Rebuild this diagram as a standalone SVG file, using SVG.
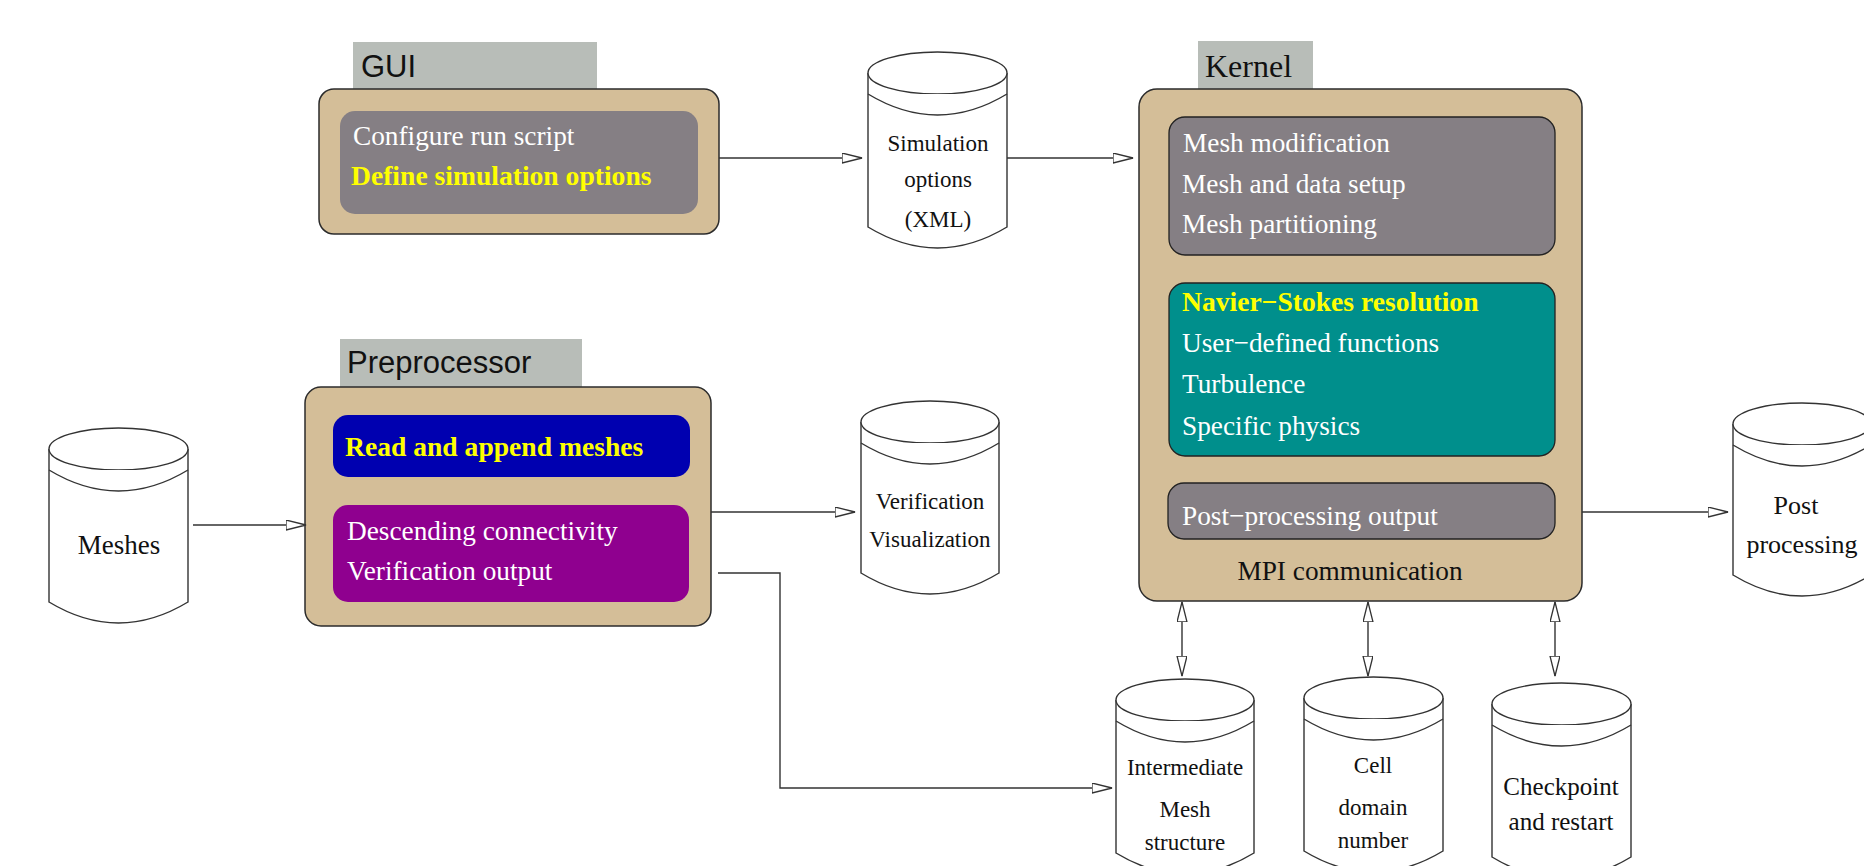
<svg xmlns="http://www.w3.org/2000/svg" width="1864" height="866" viewBox="0 0 1864 866">
<style>
.bg{fill:#ffffff}
.outer{fill:#d4be98;stroke:#2b2b2b;stroke-width:1.5}
.lbl{fill:#b8bdb8}
.gray{fill:#857f84}
.grayo{fill:#857f84;stroke:#222;stroke-width:1.3}
.teal{fill:#008f8c;stroke:#222;stroke-width:1.3}
.blue{fill:#0000b0}
.purple{fill:#8f008f}
.cyl{fill:#ffffff;stroke:#333;stroke-width:1.4}
.ser{font-family:"Liberation Serif","Times New Roman",serif}
.sans{font-family:"Liberation Sans",Arial,sans-serif;font-size:31px;fill:#111}
.w{fill:#ffffff;font-size:27.3px}
.y{fill:#ffff00;font-size:27.6px;font-weight:bold}
.k{fill:#111;font-size:27.3px}
.c{fill:#111;font-size:23px;text-anchor:middle}
.conn{fill:none;stroke:#333;stroke-width:1.4}
</style>
<defs>
<marker id="ah" markerWidth="22" markerHeight="12" refX="20" refY="5" orient="auto-start-reverse" markerUnits="userSpaceOnUse">
<path d="M0,0 L20,5 L0,10 Z" fill="#ffffff" stroke="#333" stroke-width="1.3"/>
</marker>
</defs>
<rect class="bg" x="0" y="0" width="1864" height="866"/>

<g id="gui">
<rect class="lbl" x="353" y="42" width="244" height="47"/>
<text class="sans" x="361" y="77">GUI</text>
<rect class="outer" x="319" y="89" width="400" height="145" rx="15"/>
<rect class="gray" x="340" y="111" width="358" height="103" rx="15"/>
<text class="ser w" x="353" y="145">Configure run script</text>
<text class="ser y" x="351" y="185">Define simulation options</text>
</g>

<g id="sim-options">
<path class="cyl" d="M868,73 V227 Q937.5,269 1007,227 V73"/>
<ellipse class="cyl" cx="937.5" cy="73" rx="69.5" ry="21"/>
<path class="cyl" d="M868,94 Q937.5,136 1007,94" fill="none"/>
<text class="ser c" x="938" y="151">Simulation</text>
<text class="ser c" x="938" y="187">options</text>
<text class="ser c" x="938" y="227">(XML)</text>
</g>

<g id="kernel">
<rect class="lbl" x="1198" y="41" width="115" height="48"/>
<text class="ser" x="1205" y="77" style="font-size:32px;fill:#111">Kernel</text>
<rect class="outer" x="1139" y="89" width="443" height="512" rx="18"/>
<rect class="grayo" x="1169" y="117" width="386" height="138" rx="16"/>
<text class="ser w" x="1183" y="152">Mesh modification</text>
<text class="ser w" x="1182" y="193">Mesh and data setup</text>
<text class="ser w" x="1182" y="233">Mesh partitioning</text>
<rect class="teal" x="1169" y="283" width="386" height="173" rx="16"/>
<text class="ser y" x="1182" y="311">Navier−Stokes resolution</text>
<text class="ser w" x="1182" y="352">User−defined functions</text>
<text class="ser w" x="1182" y="393">Turbulence</text>
<text class="ser w" x="1182" y="435">Specific physics</text>
<rect class="grayo" x="1168" y="483" width="387" height="56" rx="16"/>
<text class="ser w" x="1182" y="525">Post−processing output</text>
<text class="ser k" x="1350" y="580" text-anchor="middle">MPI communication</text>
</g>

<g id="preprocessor">
<rect class="lbl" x="340" y="339" width="242" height="48"/>
<text class="sans" x="347" y="373">Preprocessor</text>
<rect class="outer" x="305" y="387" width="406" height="239" rx="16"/>
<rect class="blue" x="333" y="415" width="357" height="62" rx="15"/>
<text class="ser y" x="345" y="456">Read and append meshes</text>
<rect class="purple" x="333" y="505" width="356" height="97" rx="15"/>
<text class="ser w" x="347" y="540">Descending connectivity</text>
<text class="ser w" x="347" y="580">Verification output</text>
</g>

<g id="meshes">
<path class="cyl" d="M49,449 V602 Q118.5,644 188,602 V449"/>
<ellipse class="cyl" cx="118.5" cy="449" rx="69.5" ry="21"/>
<path class="cyl" d="M49,470 Q118.5,512 188,470" fill="none"/>
<text class="ser c" x="119" y="554" style="font-size:27px">Meshes</text>
</g>

<g id="verification">
<path class="cyl" d="M861,422 V573 Q930,615 999,573 V422"/>
<ellipse class="cyl" cx="930" cy="422" rx="69" ry="21"/>
<path class="cyl" d="M861,443 Q930,485 999,443" fill="none"/>
<text class="ser c" x="930" y="509">Verification</text>
<text class="ser c" x="930" y="547">Visualization</text>
</g>

<g id="post-processing">
<path class="cyl" d="M1733,424 V575 Q1802,617 1871,575 V424"/>
<ellipse class="cyl" cx="1802" cy="424" rx="69" ry="21"/>
<path class="cyl" d="M1733,445 Q1802,487 1871,445" fill="none"/>
<text class="ser c" x="1796" y="514" style="font-size:26px">Post</text>
<text class="ser c" x="1802" y="553" style="font-size:26px">processing</text>
</g>

<g id="intermediate">
<path class="cyl" d="M1116,700 V853 Q1185,895 1254,853 V700"/>
<ellipse class="cyl" cx="1185" cy="700" rx="69" ry="21"/>
<path class="cyl" d="M1116,721 Q1185,763 1254,721" fill="none"/>
<text class="ser c" x="1185" y="775">Intermediate</text>
<text class="ser c" x="1185" y="817">Mesh</text>
<text class="ser c" x="1185" y="850">structure</text>
</g>

<g id="cell-domain">
<path class="cyl" d="M1304,698 V851 Q1373.5,893 1443,851 V698"/>
<ellipse class="cyl" cx="1373.5" cy="698" rx="69.5" ry="21"/>
<path class="cyl" d="M1304,719 Q1373.5,761 1443,719" fill="none"/>
<text class="ser c" x="1373" y="773">Cell</text>
<text class="ser c" x="1373" y="815">domain</text>
<text class="ser c" x="1373" y="848">number</text>
</g>

<g id="checkpoint">
<path class="cyl" d="M1492,704 V857 Q1561.5,899 1631,857 V704"/>
<ellipse class="cyl" cx="1561.5" cy="704" rx="69.5" ry="21"/>
<path class="cyl" d="M1492,725 Q1561.5,767 1631,725" fill="none"/>
<text class="ser c" x="1561" y="795" style="font-size:25px">Checkpoint</text>
<text class="ser c" x="1561" y="830" style="font-size:25px">and restart</text>
</g>

<g id="connectors">
<path class="conn" d="M719,158 H862" marker-end="url(#ah)"/>
<path class="conn" d="M1007,158 H1133" marker-end="url(#ah)"/>
<path class="conn" d="M193,525 H306" marker-end="url(#ah)"/>
<path class="conn" d="M711,512 H855" marker-end="url(#ah)"/>
<path class="conn" d="M1582,512 H1728" marker-end="url(#ah)"/>
<path class="conn" d="M718,573 H780 V788 H1112" marker-end="url(#ah)"/>
<path class="conn" d="M1182,602 V676" marker-start="url(#ah)" marker-end="url(#ah)"/>
<path class="conn" d="M1368,602 V676" marker-start="url(#ah)" marker-end="url(#ah)"/>
<path class="conn" d="M1555,602 V676" marker-start="url(#ah)" marker-end="url(#ah)"/>
</g>
</svg>
